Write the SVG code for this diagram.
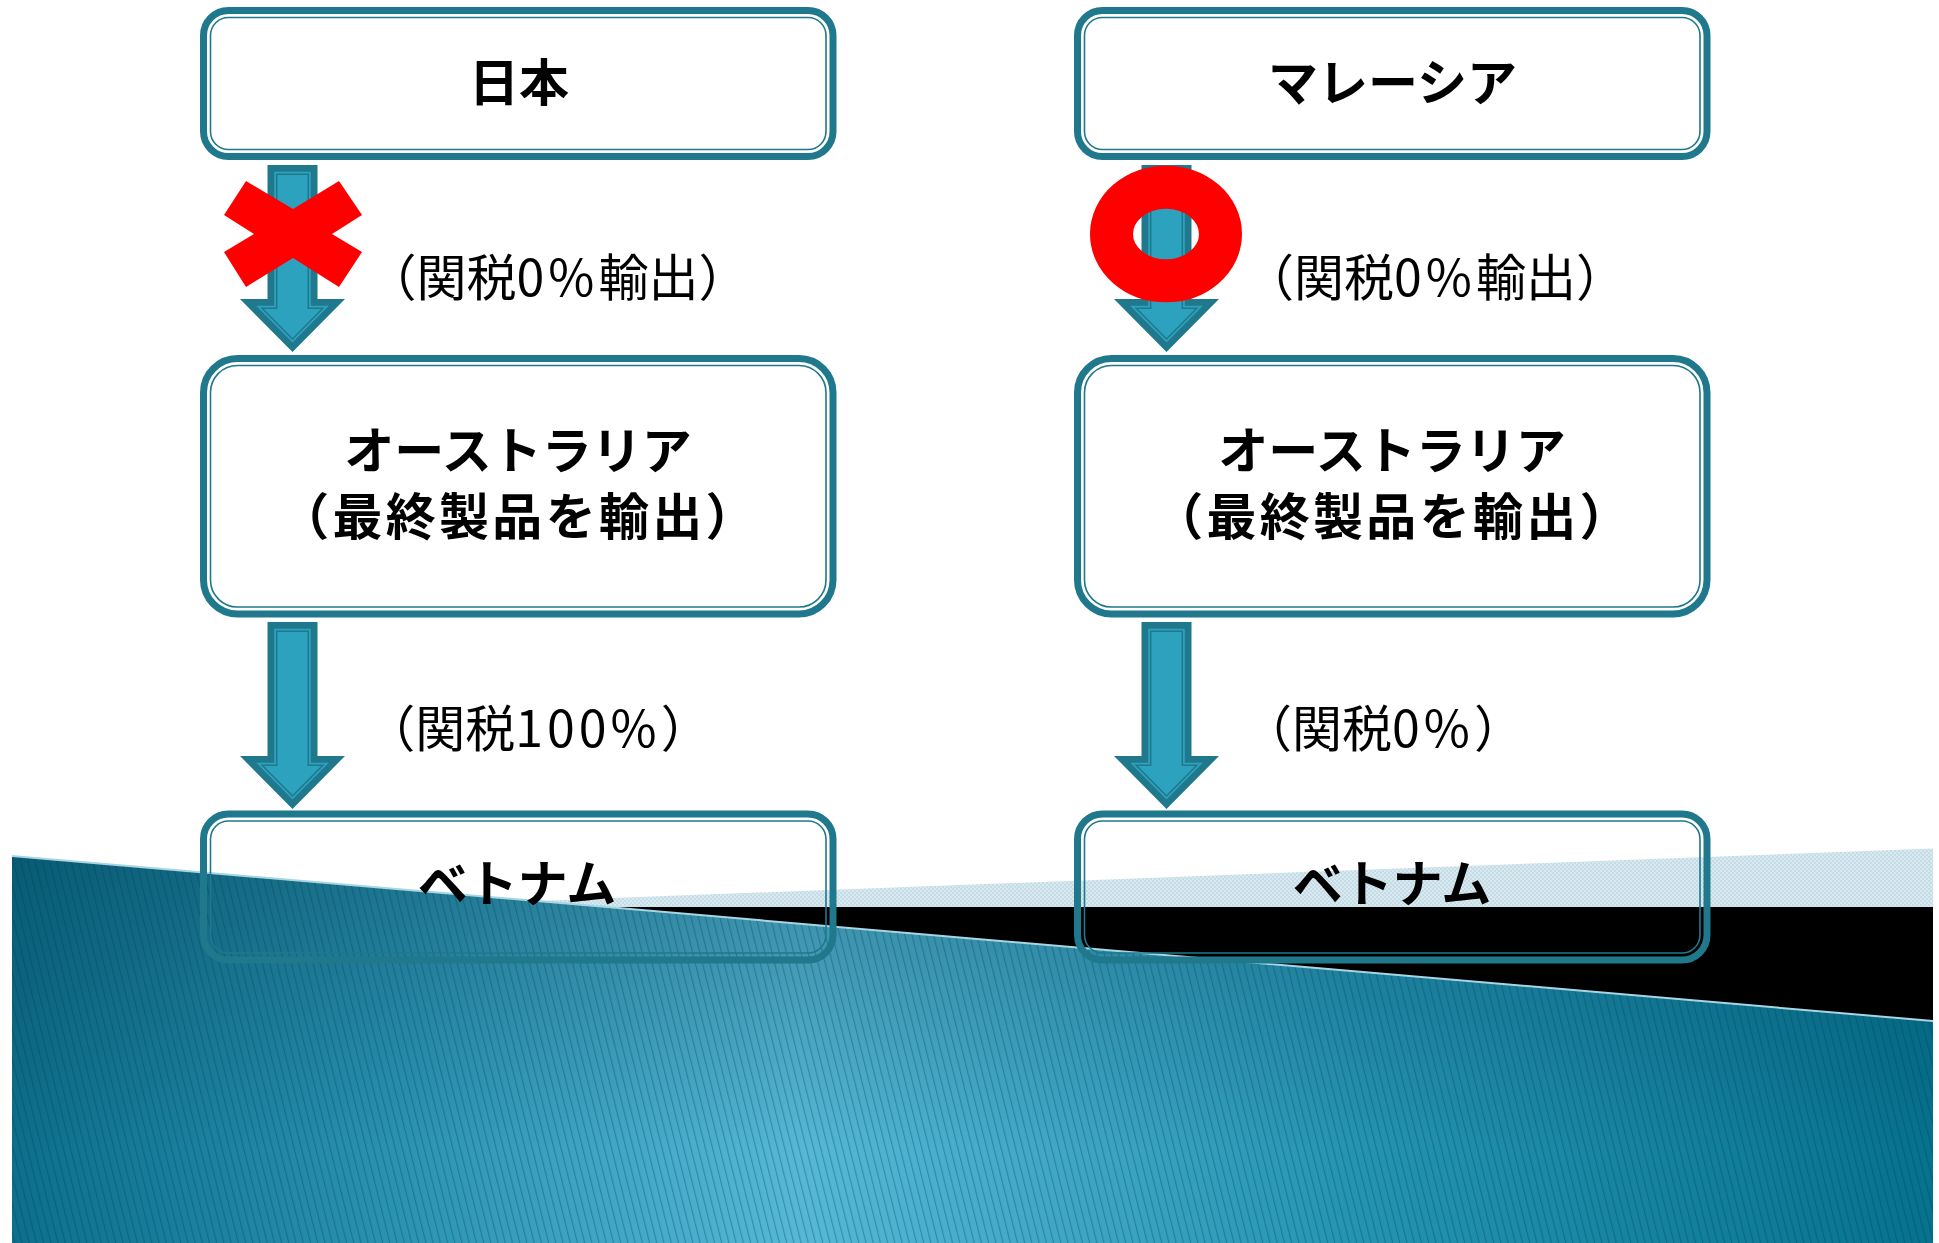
<svg xmlns="http://www.w3.org/2000/svg" xmlns:xlink="http://www.w3.org/1999/xlink" width="1939" height="1243" viewBox="0 0 1939 1243">
<style>
.outer{fill:none;stroke:#1f788c;stroke-width:7}
.inner{fill:none;stroke:#1f788c;stroke-width:1.6}
.lbl{font-family:"Noto Sans CJK JP","Noto Sans CJK SC",sans-serif;font-weight:700;font-size:50px;fill:#000;text-anchor:middle;dominant-baseline:central}
.tar{font-family:"Noto Sans CJK JP","Noto Sans CJK SC",sans-serif;font-weight:400;font-size:50px;fill:#000;text-anchor:middle;dominant-baseline:central}
.num{letter-spacing:4px}
.adk{fill:#1f788c}
.afl{fill:#2ca2bf}
.aln{fill:none;stroke:#1f788c;stroke-width:1.5}
.red{fill:#ff0000}
</style>
<defs>
<linearGradient id="blueH" gradientUnits="userSpaceOnUse" x1="12" y1="0" x2="1933" y2="0">
<stop offset="0" stop-color="#0d6f8b"/>
<stop offset="0.2" stop-color="#2a93b2"/>
<stop offset="0.41" stop-color="#56b8d5"/>
<stop offset="0.7" stop-color="#2594b3"/>
<stop offset="1" stop-color="#06728e"/>
</linearGradient>
<linearGradient id="blueV" gradientUnits="userSpaceOnUse" x1="0" y1="850" x2="0" y2="1150">
<stop offset="0" stop-color="#003447" stop-opacity="0.35"/>
<stop offset="1" stop-color="#003447" stop-opacity="0"/>
</linearGradient>
<pattern id="stripes" patternUnits="userSpaceOnUse" width="7" height="20" patternTransform="rotate(-14)">
<rect x="0" y="0" width="1.2" height="20" fill="#003a50" fill-opacity="0.32"/>
</pattern>
<pattern id="dots" patternUnits="userSpaceOnUse" width="4" height="4">
<rect width="4" height="4" fill="#dae9ef"/>
<rect width="2" height="2" fill="#c4dce6"/>
<rect x="2" y="2" width="2" height="2" fill="#c4dce6"/>
</pattern>
<g id="arr">
<polygon class="adk" points="-25,0 25,0 25,134 52.5,134 0,187 -52.5,134 -25,134"/>
<polygon class="afl" points="-18.3,6.7 18.3,6.7 18.3,140.7 36.3,140.7 0,177.5 -36.3,140.7 -18.3,140.7"/>
<polygon class="aln" points="-15.8,9.2 15.8,9.2 15.8,143.2 30.3,143.2 0,174 -30.3,143.2 -15.8,143.2"/>
</g>
</defs>
<rect width="1939" height="1243" fill="#ffffff"/>
<g id="background">
<polygon points="373,907 1933,848.5 1933,907" fill="url(#dots)"/>
<rect x="500" y="907" width="1433" height="125" fill="#000000"/>
<polygon points="12,856 1933,1021 1933,1243 12,1243" fill="url(#blueH)"/>
<polygon points="12,856 1933,1021 1933,1243 12,1243" fill="url(#blueV)"/>
<polygon points="12,856 1933,1021 1933,1243 12,1243" fill="url(#stripes)"/>
<line x1="12" y1="856" x2="1933" y2="1021" stroke="#a6d6e4" stroke-width="2"/>
</g>
<g id="connectors">
<use xlink:href="#arr" href="#arr" transform="translate(292.5,165)"/>
<use xlink:href="#arr" href="#arr" transform="translate(292.5,622)"/>
<use xlink:href="#arr" href="#arr" transform="translate(1166.5,165)"/>
<use xlink:href="#arr" href="#arr" transform="translate(1166.5,622)"/>
<text class="tar" x="557.5" y="274">（関税<tspan class="num">0%</tspan>輸出）</text>
<text class="tar" x="1435" y="273.5">（関税<tspan class="num">0%</tspan>輸出）</text>
<text class="tar" x="538" y="725">（関税<tspan class="num">100%</tspan>）</text>
<text class="tar" x="1383" y="725">（関税<tspan class="num">0%</tspan>）</text>
</g>
<g id="mark-x">
<polygon class="red" points="246,181 293,209 339,181 362,215 332,234 362,252 339,287 293,258 246,287 224,252 254,234 224,215"/>
</g>
<g id="mark-o">
<ellipse cx="1166" cy="234" rx="54.5" ry="46.8" fill="none" stroke="#ff0000" stroke-width="43"/>
</g>
<g id="node-japan">
<rect class="outer" x="203.5" y="10.5" width="629.5" height="146" rx="25"/>
<rect class="inner" x="210.5" y="17.5" width="615.5" height="132" rx="18"/>
<text class="lbl" x="519" y="79">日本</text>
</g>
<g id="node-australia-1">
<rect class="outer" x="203.5" y="358.5" width="629.5" height="255.5" rx="34"/>
<rect class="inner" x="210.5" y="365.5" width="615.5" height="241.5" rx="27"/>
<text class="lbl" x="518" y="446.5" font-size="46">オーストラリア</text>
<text class="lbl" x="519" y="513" font-size="46" letter-spacing="3.3">（最終製品を輸出）</text>
</g>
<g id="node-vietnam-1">
<rect class="outer" x="203.5" y="814" width="629.5" height="146" rx="25"/>
<rect class="inner" x="210.5" y="821" width="615.5" height="132" rx="18"/>
<text class="lbl" x="517" y="880" font-size="47">ベトナム</text>
</g>
<g id="node-malaysia">
<rect class="outer" x="1077.5" y="10.5" width="629.5" height="146" rx="25"/>
<rect class="inner" x="1084.5" y="17.5" width="615.5" height="132" rx="18"/>
<text class="lbl" x="1392.5" y="79" font-size="48">マレーシア</text>
</g>
<g id="node-australia-2">
<rect class="outer" x="1077.5" y="358.5" width="629.5" height="255.5" rx="34"/>
<rect class="inner" x="1084.5" y="365.5" width="615.5" height="241.5" rx="27"/>
<text class="lbl" x="1392" y="446.5" font-size="46">オーストラリア</text>
<text class="lbl" x="1393" y="513" font-size="46" letter-spacing="3.3">（最終製品を輸出）</text>
</g>
<g id="node-vietnam-2">
<rect class="outer" x="1077.5" y="814" width="629.5" height="146" rx="25"/>
<rect class="inner" x="1084.5" y="821" width="615.5" height="132" rx="18"/>
<text class="lbl" x="1392" y="880" font-size="47">ベトナム</text>
</g>
</svg>
